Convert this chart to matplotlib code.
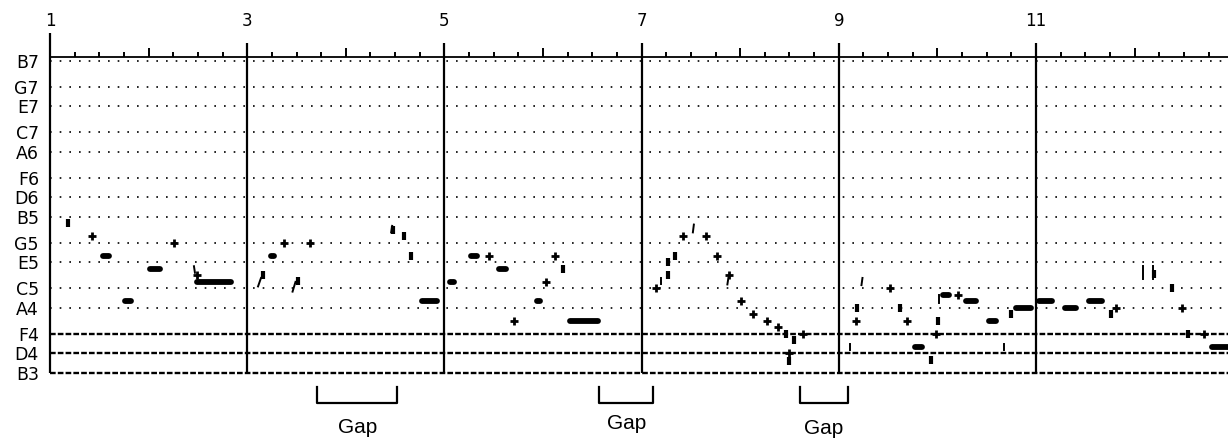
import matplotlib.pyplot as plt

# pitch rows (MIDI numbers) and their names
row_pitch = [107, 103, 100, 96, 93, 89, 86, 83, 79, 76, 72, 69, 65, 62, 59]
row_names = ['B7', 'G7', 'E7', 'C7', 'A6', 'F6', 'D6', 'B5', 'G5', 'E5', 'C5', 'A4', 'F4', 'D4', 'B3']
staff_pitch = [65, 62, 59]          # dashed rows
measure_labels = [1, 3, 5, 7, 9, 11]

# held notes: onset, offset (measures), pitch
bar_on = [1.51, 1.74, 1.99, 2.47, 3.22, 3.53, 4.51, 4.75, 5.03, 5.24, 5.53, 5.91, 6.25,
          7.54, 9.24, 9.41, 9.75, 10.03, 10.26, 10.50, 10.77, 11.01, 11.27, 11.51, 12.27, 12.76]
bar_off = [1.62, 1.85, 2.14, 2.86, 3.30, 3.57, 4.55, 4.95, 5.12, 5.36, 5.65, 5.99, 6.58,
           7.58, 9.27, 9.45, 9.87, 10.14, 10.42, 10.62, 10.97, 11.19, 11.43, 11.69, 12.31, 12.98]
bar_pitch = [77, 70, 75, 73, 77, 74, 82, 70, 73, 77, 75, 70, 67,
             82, 74, 74, 63, 71, 70, 67, 69, 70, 69, 70, 74, 63]

# short attacks drawn as crosses
cross_t = [1.43, 2.26, 2.49, 3.37, 3.64, 5.45, 5.71, 6.03, 6.12, 7.15, 7.42, 7.65, 7.76,
           7.89, 8.01, 8.13, 8.27, 8.38, 8.50, 8.64, 9.17, 9.52, 9.69, 9.99, 10.21, 11.81,
           12.48, 12.70]
cross_pitch = [80, 79, 74, 79, 79, 77, 67, 73, 77, 72, 80, 80, 77,
               74, 70, 68, 67, 66, 62, 65, 67, 72, 67, 65, 71, 69,
               69, 65]

# very short notes drawn as small upright blocks
block_t = [1.18, 3.16, 3.52, 4.48, 4.59, 4.66, 6.20, 7.27, 7.27, 7.34, 8.46, 8.55, 8.50,
           9.18, 9.62, 9.94, 10.01, 10.75, 11.76, 12.38, 12.54, 12.20]
block_pitch = [82, 74, 73.2, 81, 80, 77, 75, 74, 76, 77, 65, 64, 60.8,
               69, 69, 61, 67, 68, 68, 72, 65, 74.2]

# pitch glides: t0, p0, t1, p1
glide_t0 = [2.46, 3.11, 3.46, 4.46, 7.20, 7.52, 7.87, 9.11, 9.23, 10.02, 10.68, 12.09, 12.19]
glide_p0 = [75.4, 72.3, 71.5, 80.6, 72.6, 80.6, 72.6, 62.5, 72.5, 69.8, 62.6, 73.5, 73.5]
glide_t1 = [2.47, 3.14, 3.49, 4.47, 7.20, 7.53, 7.88, 9.11, 9.24, 10.02, 10.68, 12.09, 12.19]
glide_p1 = [74.4, 73.6, 73.0, 81.6, 73.6, 81.8, 73.6, 63.4, 73.6, 71.0, 63.4, 75.4, 75.4]

# gaps marked under the chart
gap_start = [3.71, 6.57, 8.61]
gap_end = [4.52, 7.12, 9.09]
gap_text_y = [50.7, 51.3, 50.4]

px = 6.51          # pixels per semitone
mpx = 98.6         # pixels per measure
y_lo = 59
y_hi = y_lo + 316 / px

fig = plt.figure(figsize=(12.28, 4.43), dpi=100)
ax = fig.add_axes([50 / 1228, 1 - 373 / 443, 1 - 50 / 1228, 316 / 443])
ax.set_xlim(1, 1 + 1178 / mpx)
ax.set_ylim(y_lo, y_hi)
for s in ['left', 'right', 'bottom']:
    ax.spines[s].set_visible(False)
ax.spines['top'].set_linewidth(1.3)
ax.set_xticks([])
ax.set_yticks(row_pitch)
ax.set_yticklabels(row_names, fontsize=12.5, family='DejaVu Sans')
ax.tick_params(axis='y', length=0, pad=8)

# rows
for p in row_pitch:
    if p in staff_pitch:
        ax.axhline(p, color='black', lw=1.7, dashes=(2.4, 0.9), zorder=1, clip_on=False)
    else:
        ax.axhline(p, color='black', lw=1.2, dashes=(1, 4.8), zorder=1, clip_on=False)

# measure lines and ticks
ax.vlines(1, y_lo, y_lo + (373 - 33) / px, color='black', lw=1.6, clip_on=False, zorder=3)
ax.vlines(measure_labels[1:], y_lo, y_lo + (373 - 43) / px, color='black', lw=1.6,
          clip_on=False, zorder=3)
evens = [m for m in range(2, 13, 2)]
ax.vlines(evens, y_hi, y_hi + 9 / px, color='black', lw=1.4, clip_on=False)
quarters = [1 + q * 0.25 for q in range(48) if q % 4 != 0]
ax.vlines(quarters, y_hi, y_hi + 5 / px, color='black', lw=1.4, clip_on=False)
for m in measure_labels:
    ax.text(m, y_lo + (373 - 21) / px, str(m), ha='center', va='center', fontsize=12,
            family='DejaVu Sans')

# notes
cap = 2.5 / mpx
for t0, t1, p in zip(bar_on, bar_off, bar_pitch):
    ax.plot([t0 + cap, max(t1 - cap, t0 + cap + 0.001)], [p, p], color='black', lw=4.2,
            solid_capstyle='round', zorder=4)
ax.plot(cross_t, cross_pitch, ls='none', marker='+', ms=6, mew=2.0, color='black', zorder=4)
ax.plot(block_t, block_pitch, ls='none', marker='|', ms=5.5, mew=3.0, color='black', zorder=4)
for t0, p0, t1, p1 in zip(glide_t0, glide_p0, glide_t1, glide_p1):
    ax.plot([t0, t1], [p0, p1], color='black', lw=1.4, zorder=4)

# gap brackets
b_top = y_lo - 14 / px
b_bot = y_lo - 30 / px
for g0, g1, gy in zip(gap_start, gap_end, gap_text_y):
    ax.plot([g0, g0, g1, g1], [b_top, b_bot, b_bot, b_top], color='black', lw=1.6,
            clip_on=False)
    ax.text((g0 + g1) / 2, gy, 'Gap', ha='center', va='center', fontsize=15,
            family='Liberation Sans')

fig.savefig('out.png', dpi=100)
